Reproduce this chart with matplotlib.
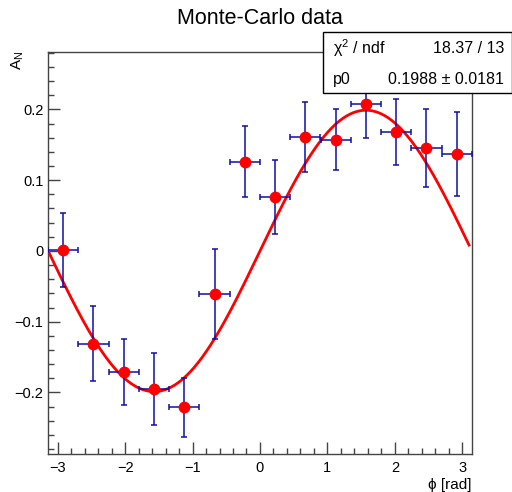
import numpy as np
import matplotlib
matplotlib.use("Agg")
import matplotlib.pyplot as plt
from matplotlib.patches import Rectangle
from matplotlib.ticker import MultipleLocator

# ---- data ----
phi = np.array([-2.918, -2.469, -2.020, -1.571, -1.122, -0.673, -0.224,
                0.224, 0.673, 1.122, 1.571, 2.020, 2.469, 2.918])
phi_err = np.array([0.224] * 14)
an = np.array([0.001, -0.131, -0.171, -0.195, -0.221, -0.061, 0.126,
               0.076, 0.161, 0.157, 0.208, 0.168, 0.145, 0.137])
an_err = np.array([0.052, 0.053, 0.047, 0.051, 0.042, 0.064, 0.050,
                   0.052, 0.050, 0.043, 0.049, 0.047, 0.055, 0.059])
p0 = 0.1988
fit_range = (-3.1416, 3.10)
stats_rows = [("χ$^{2}$ / ndf", "18.37 / 13"), ("p0", "0.1988 ± 0.0181")]

plt.rcParams['font.family'] = ['Liberation Sans', 'DejaVu Sans']
plt.rcParams['mathtext.fontset'] = 'custom'
plt.rcParams['mathtext.rm'] = 'Liberation Sans'

fig = plt.figure(figsize=(5.12, 4.92), dpi=100)
ax = fig.add_axes([47.7/512, 1-454/492, (472-47.7)/512, (454-51.7)/492])

xf = np.linspace(fit_range[0], fit_range[1], 400)
ax.plot(xf, p0*np.sin(xf), color='#ff0000', lw=2.0, zorder=3)
ax.errorbar(phi, an, yerr=an_err, xerr=phi_err, fmt='o', color='#ff0000',
            ms=7.5, ecolor='#1010a8', elinewidth=1.1, capsize=2.0,
            capthick=1.1, zorder=4)

ax.set_xlim(-3.148, 3.144)
ax.set_ylim(-0.287, 0.2815)
ax.xaxis.set_major_locator(MultipleLocator(1))
ax.xaxis.set_minor_locator(MultipleLocator(0.2))
ax.yaxis.set_major_locator(MultipleLocator(0.1))
ax.yaxis.set_minor_locator(MultipleLocator(0.02))
ax.set_yticks([-0.2, -0.1, 0, 0.1, 0.2])
ax.set_yticklabels(['−0.2', '−0.1', '0', '0.1', '0.2'])
ax.set_xticks([-3, -2, -1, 0, 1, 2, 3])
ax.set_xticklabels(['−3', '−2', '−1', '0', '1', '2', '3'])
ax.tick_params(which='both', direction='in', top=False, right=False,
               color='#444444', labelsize=10.5)
ax.tick_params(which='major', length=8.6, width=1.0)
ax.tick_params(which='minor', length=4.3, width=1.0)
ax.tick_params(axis='x', pad=5)
ax.tick_params(axis='y', pad=3)
for s in ax.spines.values():
    s.set_color('#444444')
    s.set_linewidth(1.0)

fig.text(260/512, 1-19/492, 'Monte-Carlo data', ha='center', va='center',
         fontsize=15.5)
fig.text(18/512, 1-51/492, r'A$_{\mathregular{N}}$', rotation=90,
         ha='center', va='top', fontsize=11)
fig.text(472/512, 1-478/492, 'ϕ [rad]', ha='right', va='top', fontsize=11)

# stats box
bx0, bx1, by0, by1 = 323.3/512, 511.5/512, 1-93.3/492, 1-32.3/492
fig.patches.append(Rectangle((bx0, by0), bx1-bx0, by1-by0,
                             transform=fig.transFigure, facecolor='white',
                             edgecolor='black', lw=1.0, zorder=5))
row_y = [1-48.3/492, 1-79.3/492]
for (lab, val), yy in zip(stats_rows, row_y):
    fig.text(333/512, yy, lab, ha='left', va='center', fontsize=11.5, zorder=6)
    fig.text(504/512, yy, val, ha='right', va='center', fontsize=11.5, zorder=6)

fig.savefig('out.png', dpi=100)
